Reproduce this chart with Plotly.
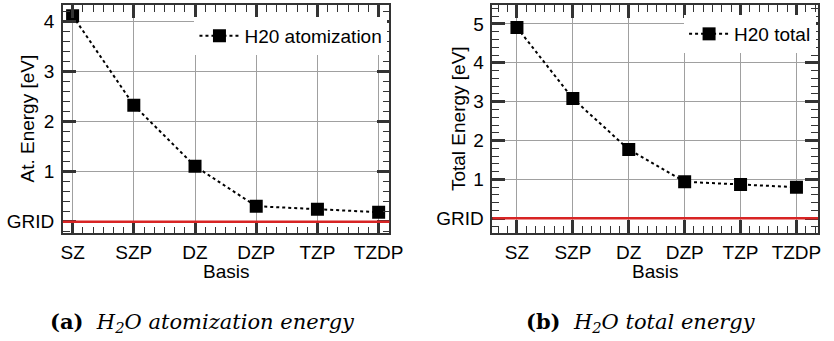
import plotly.graph_objects as go

basis = ["SZ", "SZP", "DZ", "DZP", "TZP", "TZDP"]
atomization = [4.12, 2.33, 1.11, 0.31, 0.25, 0.19]
total = [4.91, 3.08, 1.77, 0.94, 0.87, 0.80]
grid_ref = 0.0
ytick_left = ["GRID", "1", "2", "3", "4"]
ytick_right = ["GRID", "1", "2", "3", "4", "5"]

xi = list(range(len(basis)))
W, H = 834, 341
FONT = "Liberation Sans, Arial, Helvetica, sans-serif"
AX = "#333333"

fig = go.Figure()
fig.add_trace(go.Scatter(x=xi, y=atomization, mode="lines+markers", name="H20 atomization",
                         line=dict(color="black", dash="dot", width=2),
                         marker=dict(symbol="square", size=13, color="black"),
                         xaxis="x", yaxis="y", legend="legend"))
fig.add_trace(go.Scatter(x=xi, y=total, mode="lines+markers", name="H20 total",
                         line=dict(color="black", dash="dot", width=2),
                         marker=dict(symbol="square", size=13, color="black"),
                         xaxis="x2", yaxis="y2", legend="legend2"))


def px_x(p):
    return p / W


def px_y(p):
    return (H - p) / H


common = dict(showline=True, linecolor=AX, linewidth=1.5, mirror="allticks",
              ticks="inside", ticklen=13, tickwidth=2.5, tickcolor=AX,
              showgrid=True, gridcolor="#a0a0a0", gridwidth=1, zeroline=False,
              tickfont=dict(family=FONT, size=19, color="black"))

minor_common = dict(ticks="inside", ticklen=7, tickwidth=1, tickcolor=AX, showgrid=False,
                    tickmode="linear")

fig.update_layout(
    width=W, height=H, margin=dict(l=0, r=0, t=0, b=0),
    paper_bgcolor="white", plot_bgcolor="white", showlegend=True,
    font=dict(family=FONT, size=19, color="black"),
    xaxis=dict(domain=[px_x(62), px_x(395)], range=[-0.16, 5.176], anchor="y",
               tickmode="array", tickvals=xi, ticktext=basis, ticklabelstandoff=1,
               minor=dict(tick0=0, dtick=1/6, **minor_common), **common),
    yaxis=dict(domain=[px_y(233.3), px_y(5)], range=[-0.232, 4.334], anchor="x",
               tickmode="array", tickvals=[0, 1, 2, 3, 4], ticktext=ytick_left,
               ticklabelstandoff=3,
               minor=dict(tick0=0, dtick=0.2, **minor_common), **common),
    xaxis2=dict(domain=[px_x(500), px_x(832)], range=[-0.439, 5.386], anchor="y2",
                tickmode="array", tickvals=xi, ticktext=basis, ticklabelstandoff=1,
                minor=dict(tick0=0, dtick=1/6, **minor_common), **common),
    yaxis2=dict(domain=[px_y(233), px_y(5)], range=[-0.378, 5.488], anchor="x2",
                tickmode="array", tickvals=[0, 1, 2, 3, 4, 5], ticktext=ytick_right,
                ticklabelstandoff=3,
                minor=dict(tick0=0, dtick=0.2, **minor_common), **common),
    legend=dict(x=px_x(393), xanchor="right", y=px_y(17), yanchor="top",
                bgcolor="white", borderwidth=0, itemwidth=40,
                font=dict(family=FONT, size=19)),
    legend2=dict(x=px_x(830), xanchor="right", y=px_y(15), yanchor="top",
                 bgcolor="white", borderwidth=0, itemwidth=40,
                 font=dict(family=FONT, size=19)),
)

# GRID reference lines
for xr, yr in (("x domain", "y"), ("x2 domain", "y2")):
    fig.add_shape(type="line", xref=xr, yref=yr, x0=0, x1=1, y0=grid_ref, y1=grid_ref,
                  line=dict(color="#d82424", width=2.5))


def note(text, x, y, font, angle=0):
    fig.add_annotation(text=text, x=px_x(x), y=px_y(y), xref="paper", yref="paper",
                       xanchor="center", yanchor="middle", showarrow=False,
                       textangle=angle, font=font)


sans = dict(family=FONT, size=19, color="black")
note("Basis", 228.5, 271.7, sans)
note("Basis", 666, 271.7, sans)
note("At. Energy [eV]", 25, 119, sans, -90)
note("Total Energy [eV]", 465, 119, sans, -90)

SERIF = "DejaVu Serif, serif"
serif = dict(family=SERIF, size=21, color="black")
note("<b>(a)</b>  <i>H<sub>2</sub>O atomization energy</i>", 204, 322, serif)
note("<b>(b)</b>  <i>H<sub>2</sub>O total energy</i>", 652, 322, serif)

fig.write_html("out.html", post_script="document.body.style.margin='0';",
               config={"displayModeBar": False})
